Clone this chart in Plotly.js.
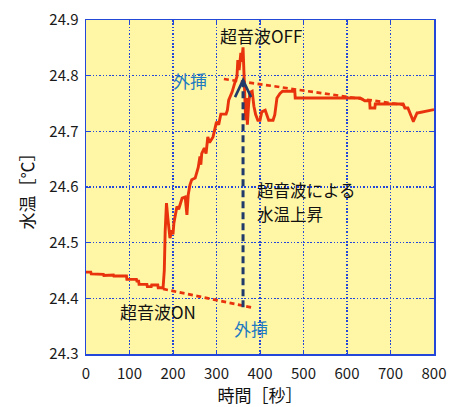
<!DOCTYPE html>
<html><head><meta charset="utf-8">
<script src="https://cdn.plot.ly/plotly-3.0.1.min.js"></script>
<style>html,body{margin:0;padding:0;background:#fff;}#chart{width:457px;height:407px;}</style>
</head><body><div id="chart"></div>
<script>
// measured water temperature (time [s], temperature [°C])
const timeSec = [0,11,12,25,26,40,41,56,57,63,64,93,94,116,117,121,122,140,141,150,151,165,166,176,177,
  180,182,185,188,193,197,200,202,206,209,213,216,221,228,232,235,239,243,251,
  258,262,264,266,272,276,280,284,292,296,300,305,310,322,325,328,336,342,347,349,352,356,358,361,
  363,365,367,369,371,374,377,382,386,390,395,400,404,412,416,420,430,434,439,446,452,
  480,481,630,641,652,653,664,665,729,733,740,752,753,761,762,800];
const waterTemp = [24.447,24.447,24.444,24.444,24.443,24.443,24.441,24.441,24.442,24.442,24.440,24.440,24.434,24.434,24.431,24.431,24.425,24.425,24.421,24.421,24.424,24.424,24.419,24.419,24.417,
  24.450,24.520,24.571,24.545,24.508,24.522,24.515,24.535,24.553,24.565,24.560,24.568,24.580,24.582,24.550,24.586,24.604,24.613,24.616,
  24.635,24.655,24.640,24.660,24.670,24.660,24.690,24.680,24.690,24.705,24.717,24.712,24.731,24.731,24.738,24.756,24.771,24.787,24.798,24.828,24.810,24.841,24.825,24.851,
  24.790,24.760,24.720,24.760,24.712,24.750,24.770,24.772,24.745,24.730,24.720,24.720,24.735,24.738,24.730,24.720,24.720,24.730,24.760,24.768,24.772,
  24.772,24.760,24.760,24.755,24.755,24.742,24.742,24.749,24.749,24.742,24.742,24.719,24.719,24.733,24.733,24.739,24.739];

// extrapolation lines
const extrapLowT = [177, 384];
const extrapLowV = [24.417, 24.383];
const extrapHighT = [317, 733];
const extrapHighV = [24.794, 24.747];

// arrow (temperature rise)
const arrowT = 361;
const arrowFrom = 24.384;
const arrowTo = 24.792;

// axis ticks
const xTicks = [0,100,200,300,400,500,600,700,800];
const yTicks = [24.3,24.4,24.5,24.6,24.7,24.8,24.9];

// labels
const labels = [
  {text:'超音波OFF', t:403, v:24.873, color:'#111', anchor:'center', size:17},
  {text:'外挿', t:239, v:24.792, color:'#1f7bc1', anchor:'center', size:17},
  {text:'超音波による', t:389, v:24.595, color:'#111', anchor:'left', size:16.5},
  {text:'水温上昇', t:389, v:24.552, color:'#111', anchor:'left', size:16.5},
  {text:'超音波ON', t:166, v:24.377, color:'#111', anchor:'center', size:17},
  {text:'外挿', t:379, v:24.345, color:'#1f7bc1', anchor:'center', size:17}
];

const FONT = '"Noto Sans CJK JP", "Noto Sans", sans-serif';
const RED = '#e8330d';
const NAVY = '#1f3a6b';
const BLUE = '#2347d8';

const traces = [
  {x: timeSec, y: waterTemp, type:'scatter', mode:'lines',
   line:{color:RED, width:2.9}, hoverinfo:'skip'},
  {x: extrapLowT, y: extrapLowV, type:'scatter', mode:'lines',
   line:{color:RED, width:2.6, dash:'5px,3.5px'}, hoverinfo:'skip'},
  {x: extrapHighT, y: extrapHighV, type:'scatter', mode:'lines',
   line:{color:RED, width:2.6, dash:'5px,3.5px'}, hoverinfo:'skip'}
];

const axisCommon = {
  showline:true, mirror:'ticks', linecolor:BLUE, linewidth:1.5,
  ticks:'inside', ticklen:4, tickcolor:BLUE, tickwidth:1,
  showgrid:true, gridcolor:BLUE, gridwidth:1.1, griddash:'1.5px,1.8px',
  zeroline:false, tickfont:{family:FONT, size:15, color:'#1a1a1a'}
};

const layout = {
  width:457, height:407,
  margin:{l:86, r:23, t:20, b:53},
  paper_bgcolor:'#ffffff', plot_bgcolor:'#fff6a6',
  showlegend:false,
  font:{family:FONT},
  xaxis: Object.assign({}, axisCommon, {
    range:[0,800], tickvals:xTicks, ticktext:xTicks.map(String), ticklabelstandoff:5,
    title:{text:'時間［秒］', font:{family:FONT, size:17, color:'#111'}, standoff:10}
  }),
  yaxis: Object.assign({}, axisCommon, {
    range:[24.3,24.9], tickvals:yTicks, ticktext:yTicks.map(v=>v.toFixed(1)), ticklabelstandoff:3,
    title:{text:'水温［℃］', font:{family:FONT, size:17, color:'#111'}, standoff:10}
  }),
  shapes:[
    {type:'line', xref:'x', yref:'y', x0:arrowT, x1:arrowT, y0:arrowFrom, y1:arrowTo,
     line:{color:NAVY, width:3, dash:'7px,4px'}},
    {type:'path', xref:'x', yref:'y', xsizemode:'pixel', ysizemode:'pixel',
     xanchor:arrowT, yanchor:arrowTo, path:'M-8,-17L0,0L8,-17',
     line:{color:NAVY, width:2.6}}
  ],
  annotations: labels.map(l => ({
    x:l.t, y:l.v, xref:'x', yref:'y', text:l.text, showarrow:false,
    xanchor:l.anchor, yanchor:'middle', align:'left',
    font:{family:FONT, size:l.size, color:l.color}
  }))
};

Plotly.newPlot('chart', traces, layout, {staticPlot:true, displayModeBar:false});
</script>
</body></html>
